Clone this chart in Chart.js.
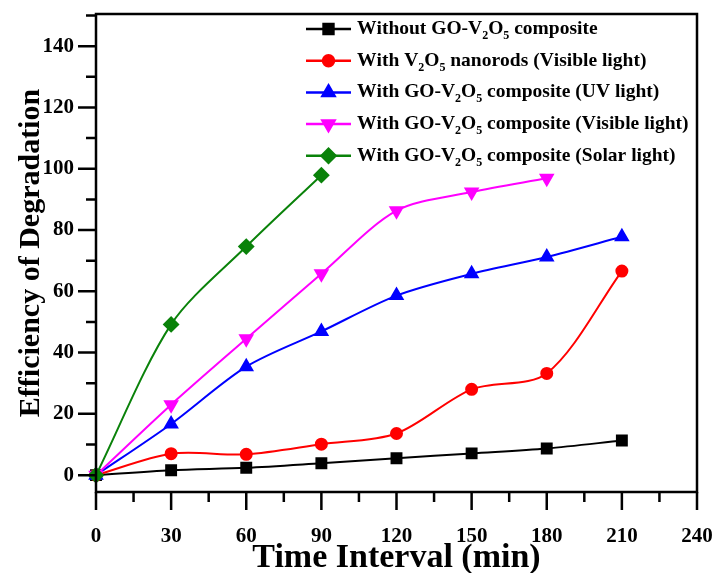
<!DOCTYPE html>
<html>
<head>
<meta charset="utf-8">
<script src="https://cdn.jsdelivr.net/npm/chart.js@4/dist/chart.umd.min.js"></script>
<style>
  html, body { margin: 0; padding: 0; background: #fff; }
  #wrap { width: 720px; height: 573px; }
</style>
</head>
<body>
<div id="wrap"><canvas id="deg"></canvas></div>
<script>
// time points (min)
const timeMin = [0, 30, 60, 90, 120, 150, 180, 210];
const xTicks = [0, 30, 60, 90, 120, 150, 180, 210, 240];
const yTicks = [0, 20, 40, 60, 80, 100, 120, 140];

const seriesLabels = [
  "Without GO-V₂O₅ composite",
  "With V₂O₅ nanorods (Visible light)",
  "With GO-V₂O₅ composite (UV light)",
  "With GO-V₂O₅ composite (Visible light)",
  "With GO-V₂O₅ composite (Solar light)",
];

const withoutGO = [0, 1.6, 2.4, 3.9, 5.5, 7.1, 8.7, 11.3];
const v2o5Visible = [0, 7.0, 6.8, 10.1, 13.6, 28.0, 33.2, 66.6];
const goUV = [0, 16.7, 35.4, 46.9, 58.6, 65.7, 71.2, 77.8];
const goVisible = [0, 23.0, 44.5, 65.7, 86.3, 92.4, 96.9];
const goSolar = [0, 49.2, 74.6, 97.9];

const colors = ["#000000", "#ff0000", "#0000ff", "#ff00ff", "#0a820a"];
const markers = [
  { style: "rect", rot: 0, r: 7 },
  { style: "circle", rot: 0, r: 5.5 },
  { style: "triangle", rot: 0, r: 7 },
  { style: "triangle", rot: 180, r: 7 },
  { style: "rectRot", rot: 0, r: 7 },
];

const FONT = "'Liberation Serif', 'DejaVu Serif', serif";
const allSeries = [withoutGO, v2o5Visible, goUV, goVisible, goSolar];

const datasets = allSeries.map((vals, i) => ({
  label: seriesLabels[i],
  data: vals.map((v, k) => ({ x: timeMin[k], y: v })),
  borderColor: colors[i],
  backgroundColor: colors[i],
  borderWidth: 2,
  pointStyle: markers[i].style,
  rotation: markers[i].rot,
  pointRadius: markers[i].r,
  pointHoverRadius: markers[i].r,
  tension: 0.3,
  clip: false,
  order: 5 - i,
}));

// frame, ticks (major + minor) drawn off the scales
const framePlugin = {
  id: "frame",
  afterDraw(chart) {
    const { ctx, chartArea: a, scales } = chart;
    const xs = scales.x, ys = scales.y;
    ctx.save();
    ctx.strokeStyle = "#000";
    ctx.lineWidth = 2.5;
    ctx.strokeRect(a.left, a.top, a.right - a.left, a.bottom - a.top);
    ctx.beginPath();
    yTicks.forEach((v) => {
      const y = ys.getPixelForValue(v);
      ctx.moveTo(a.left, y); ctx.lineTo(a.left - 18, y);
      const m = ys.getPixelForValue(v + 10);
      if (m > a.top) { ctx.moveTo(a.left, m); ctx.lineTo(a.left - 10, m); }
    });
    xTicks.forEach((v, i) => {
      const x = xs.getPixelForValue(v);
      ctx.moveTo(x, a.bottom); ctx.lineTo(x, a.bottom + 18);
      if (i < xTicks.length - 1) {
        const m = xs.getPixelForValue(v + 15);
        ctx.moveTo(m, a.bottom); ctx.lineTo(m, a.bottom + 10);
      }
    });
    ctx.stroke();
    ctx.restore();
  },
};

// legend with real subscripts
const legendPlugin = {
  id: "subLegend",
  afterDraw(chart) {
    const { ctx, chartArea: a } = chart;
    const x0 = a.left + 210, rowH = 31.7, y0 = a.top + 15;
    const sub = "₀₁₂₃₄₅₆₇₈₉";
    ctx.save();
    seriesLabels.forEach((lab, i) => {
      const y = y0 + i * rowH;
      ctx.strokeStyle = colors[i];
      ctx.fillStyle = colors[i];
      ctx.lineWidth = 2.5;
      ctx.beginPath();
      ctx.moveTo(x0, y); ctx.lineTo(x0 + 45, y);
      ctx.stroke();
      Chart.helpers.drawPoint(ctx, {
        pointStyle: markers[i].style,
        rotation: markers[i].rot,
        radius: markers[i].r,
        borderWidth: 1,
      }, x0 + 22.5, y);
      ctx.fillStyle = "#000";
      ctx.textBaseline = "middle";
      let x = x0 + 51;
      for (const ch of lab) {
        const k = sub.indexOf(ch);
        if (k >= 0) {
          ctx.font = "bold 12px " + FONT;
          ctx.fillText(String(k), x, y + 7);
          x += ctx.measureText(String(k)).width;
        } else {
          ctx.font = "bold 19.5px " + FONT;
          ctx.fillText(ch, x, y);
          x += ctx.measureText(ch).width;
        }
      }
    });
    ctx.restore();
  },
};

function noPad(s) {
  s.paddingLeft = 0; s.paddingRight = 0;
  s.paddingTop = 0; s.paddingBottom = 0;
}

new Chart(document.getElementById("deg"), {
  type: "line",
  data: { datasets },
  options: {
    responsive: true,
    maintainAspectRatio: false,
    animation: false,
    events: [],
    layout: { padding: { top: 14, right: 23, left: 0, bottom: 0 } },
    plugins: {
      legend: { display: false },
      tooltip: { enabled: false },
    },
    scales: {
      x: {
        type: "linear",
        min: 0,
        max: 240,
        afterBuildTicks: (s) => { s.ticks = xTicks.map((v) => ({ value: v })); },
        afterFit: (s) => { s.height = 81; noPad(s); },
        grid: { display: false, drawTicks: false },
        border: { display: false },
        ticks: {
          padding: 32,
          color: "#000",
          font: { family: FONT, size: 21, weight: "bold" },
        },
        title: {
          display: true,
          text: "Time Interval (min)",
          color: "#000",
          padding: { top: 0, bottom: -6 },
          font: { family: FONT, size: 34, weight: "bold" },
        },
      },
      y: {
        type: "linear",
        min: -5.5,
        max: 150.5,
        afterBuildTicks: (s) => { s.ticks = yTicks.map((v) => ({ value: v })); },
        afterFit: (s) => { s.width = 96; noPad(s); },
        grid: { display: false, drawTicks: false },
        border: { display: false },
        ticks: {
          padding: 22,
          color: "#000",
          font: { family: FONT, size: 21, weight: "bold" },
        },
        title: {
          display: true,
          text: "Efficiency of Degradation",
          color: "#000",
          padding: { top: 13, bottom: 0 },
          font: { family: FONT, size: 30, weight: "bold" },
        },
      },
    },
  },
  plugins: [framePlugin, legendPlugin],
});
</script>
</body>
</html>
